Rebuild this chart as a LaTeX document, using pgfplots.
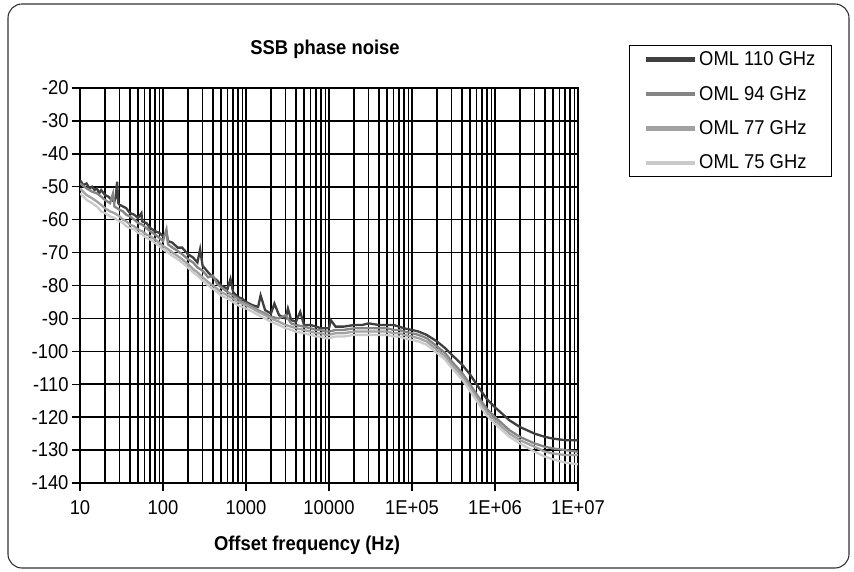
\documentclass[border=0pt]{standalone}
\usepackage{fontspec}
\setmainfont{Liberation Sans}[FakeStretch=0.92]
\usepackage{pgfplots}
\pgfplotsset{compat=1.18}
\definecolor{cA}{HTML}{3F3F3F}
\definecolor{cB}{HTML}{858585}
\definecolor{cC}{HTML}{A2A2A2}
\definecolor{cD}{HTML}{CACACA}
\newcommand{\lbl}{\fontsize{20bp}{22bp}\selectfont}
\begin{document}
\begin{tikzpicture}
\useasboundingbox (0bp,0bp) rectangle (854bp,572bp);
\draw[rounded corners=14bp, line width=1.1bp, color=black!80] (8bp,4bp) rectangle (849bp,568bp);
\begin{axis}[
  at={(80bp,89bp)}, anchor=south west,
  scale only axis, width=498bp, height=395bp,
  xmode=log, log basis x=10,
  xmin=10, xmax=1e7, ymin=-140, ymax=-20,
  xtick={10,100,1000,10000,100000,1000000,10000000},
  xticklabels={10,100,1000,10000,1E+05,1E+06,1E+07},
  minor xtick={20,30,40,50,60,70,80,90,200,300,400,500,600,700,800,900,2000,3000,4000,5000,6000,7000,8000,9000,20000,30000,40000,50000,60000,70000,80000,90000,200000,300000,400000,500000,600000,700000,800000,900000,2000000,3000000,4000000,5000000,6000000,7000000,8000000,9000000},
  ytick={-140,-130,-120,-110,-100,-90,-80,-70,-60,-50,-40,-30,-20},
  /pgf/number format/assume math mode=true,
  tick label style={font=\lbl},
  xticklabel style={yshift=-6bp},
  tick pos=left, tick align=outside,
  major tick length=8bp, minor tick length=0bp,
  major tick style={black, line width=1.4bp},
  minor tick style={draw=none},
  xmajorgrids, xminorgrids, ymajorgrids,
  major grid style={black, line width=1.6bp},
  minor grid style={black, line width=1.3bp},
  axis line style={black, line width=1.6bp},
  title={\bfseries SSB phase noise},
  title style={font=\lbl, at={(rel axis cs:0.492,1)}, anchor=center, yshift=33bp},
  xlabel={\bfseries Offset frequency (Hz)},
  xlabel style={font=\lbl, at={(rel axis cs:0.456,0)}, anchor=center, yshift=-62bp},
  legend style={at={(rel axis cs:1,1)}, anchor=north west, xshift=51bp, yshift=43bp,
    draw=black, line width=1.4bp, font=\lbl, inner xsep=14bp, inner ysep=4bp,
    row sep=15bp, cells={anchor=west}},
  legend image code/.code={\draw[#1, line width=4.5bp] (0bp,0bp) -- (49bp,0bp);},
]
\addplot[cA, line width=2.3bp, sharp plot] coordinates {
(10,-48)(11,-49.5)(12,-49)(13,-50.5)(14,-50)(15,-51)(16,-50.5)(17,-52)(18,-51)(20,-52.5)(22,-53)(24,-54)(26,-54.5)(27,-53)(28,-48.5)(29,-55)(30,-55.5)(33,-56)(36,-56.5)(40,-58)(45,-58.5)(50,-59.5)(55,-58)(56,-60.5)(63,-61)(70,-62.5)(80,-63.5)(90,-64)(100,-65)(110,-64)(115,-66.5)(130,-67)(150,-68.5)(170,-68.5)(200,-70.5)(230,-71.5)(260,-73)(280,-69)(300,-74)(350,-76)(400,-77.5)(450,-78.5)(500,-80)(600,-81)(650,-78)(700,-82)(800,-83.5)(900,-84)(1000,-85)(1200,-86)(1400,-86.5)(1500,-83)(1700,-87.5)(2000,-88.5)(2200,-85.5)(2500,-89)(3000,-90)(3200,-87)(3500,-90.5)(4000,-91)(4500,-88)(5000,-92)(6000,-92)(7000,-92.5)(8000,-93)(9000,-93)(10000,-93)(10500,-90.5)(12000,-92.5)(15000,-92.5)(20000,-92)(25000,-92)(30000,-91.5)(40000,-92)(50000,-92)(60000,-92)(70000,-92.5)(80000,-93)(100000,-93.5)(120000,-94)(150000,-95)(200000,-97)(250000,-99)(300000,-101)(400000,-104)(500000,-107)(600000,-110)(700000,-112.5)(800000,-114.5)(1000000,-117)(1500000,-121)(2000000,-123)(3000000,-125)(4000000,-126)(5000000,-126.5)(7000000,-127)(10000000,-127)
};
\addlegendentry{OML 110 GHz}
\addplot[cB, line width=2.3bp, sharp plot] coordinates {
(10,-49)(12,-50.5)(14,-51.5)(16,-52)(18,-53)(20,-54)(23,-55)(25,-52)(26,-56)(30,-57)(33,-57.5)(36,-58.5)(40,-59)(45,-60)(50,-61)(56,-61.5)(63,-62.5)(70,-63.5)(80,-64.5)(90,-65.5)(100,-66.5)(110,-63)(115,-67.5)(130,-68.5)(150,-69.5)(170,-70.5)(200,-72)(230,-73)(260,-74.5)(300,-75.5)(350,-77.5)(400,-77)(450,-79.5)(500,-80.5)(600,-82)(700,-83)(800,-84)(900,-85)(1000,-85.5)(1200,-86.5)(1400,-87.5)(1700,-88.5)(2000,-89.5)(2500,-90)(3000,-89)(3500,-91.5)(4000,-92)(5000,-92.5)(6000,-93)(7000,-93.5)(8000,-93.5)(9000,-94)(10000,-94)(12000,-93.5)(15000,-93.5)(20000,-93)(25000,-93)(30000,-93)(40000,-93)(50000,-93)(60000,-93.5)(70000,-93.5)(80000,-94)(100000,-94.5)(120000,-95)(150000,-96)(200000,-98.5)(250000,-100.5)(300000,-103)(400000,-106.5)(500000,-110)(600000,-113)(700000,-115.5)(800000,-117.5)(1000000,-120)(1500000,-124)(2000000,-126)(3000000,-128)(4000000,-129)(5000000,-129.5)(7000000,-130)(10000000,-130.5)
};
\addlegendentry{OML 94 GHz}
\addplot[cC, line width=2.3bp, sharp plot] coordinates {
(10,-50.5)(12,-52.5)(14,-53.5)(16,-54.5)(18,-55.5)(20,-56.5)(23,-57.5)(26,-58)(30,-59)(33,-60)(36,-60.5)(40,-61.5)(45,-62)(50,-63)(56,-63.5)(63,-64.5)(70,-65)(80,-66)(90,-67)(100,-68)(115,-69)(130,-70)(150,-71)(170,-72)(200,-73.5)(230,-75)(260,-76)(300,-77.5)(350,-79)(400,-80)(450,-81)(500,-82)(600,-83)(700,-84)(800,-85)(900,-85.5)(1000,-86)(1200,-87)(1400,-88)(1700,-89)(2000,-90)(2500,-91)(3000,-92)(3500,-92.5)(4000,-93)(5000,-93.5)(6000,-94)(7000,-94.5)(8000,-94.5)(9000,-95)(10000,-95)(12000,-94.5)(15000,-94.5)(20000,-94)(25000,-94)(30000,-94)(40000,-94)(50000,-94)(60000,-94.5)(70000,-94.5)(80000,-95)(100000,-95.5)(120000,-96)(150000,-97)(200000,-99.5)(250000,-101.5)(300000,-104)(400000,-107.5)(500000,-111)(600000,-114)(700000,-116.5)(800000,-118.5)(1000000,-121)(1500000,-125)(2000000,-127)(3000000,-129)(4000000,-130.5)(5000000,-131)(7000000,-131.5)(10000000,-131.5)
};
\addlegendentry{OML 77 GHz}
\addplot[cD, line width=2.3bp, sharp plot] coordinates {
(10,-52)(12,-54)(14,-55)(16,-56)(18,-57.5)(20,-58)(23,-59)(26,-59.5)(30,-60.5)(33,-61)(36,-62)(40,-62.5)(45,-63)(50,-64)(56,-64.5)(63,-65.5)(70,-66)(80,-67)(90,-68)(100,-69)(115,-70)(130,-71)(150,-72)(170,-73)(200,-74.5)(230,-76)(260,-77)(300,-78.5)(350,-80)(400,-81)(450,-82)(500,-83)(600,-84)(700,-85)(800,-86)(900,-86.5)(1000,-87)(1200,-88)(1400,-89)(1700,-90)(2000,-91)(2500,-92)(3000,-93)(3500,-93.5)(4000,-94)(5000,-94.5)(6000,-95)(7000,-95.5)(8000,-95.5)(9000,-96)(10000,-96)(12000,-95.5)(15000,-95.5)(20000,-95)(25000,-95)(30000,-95)(40000,-95)(50000,-95)(60000,-95.5)(70000,-95.5)(80000,-96)(100000,-96.5)(120000,-97)(150000,-98)(200000,-100.5)(250000,-102.5)(300000,-105)(400000,-108.5)(500000,-112)(600000,-115)(700000,-117.5)(800000,-119.5)(1000000,-122)(1500000,-126)(2000000,-128)(3000000,-130.5)(4000000,-132)(5000000,-132.8)(7000000,-133.8)(10000000,-134.3)
};
\addlegendentry{OML 75 GHz}
\end{axis}
\end{tikzpicture}
\end{document}
